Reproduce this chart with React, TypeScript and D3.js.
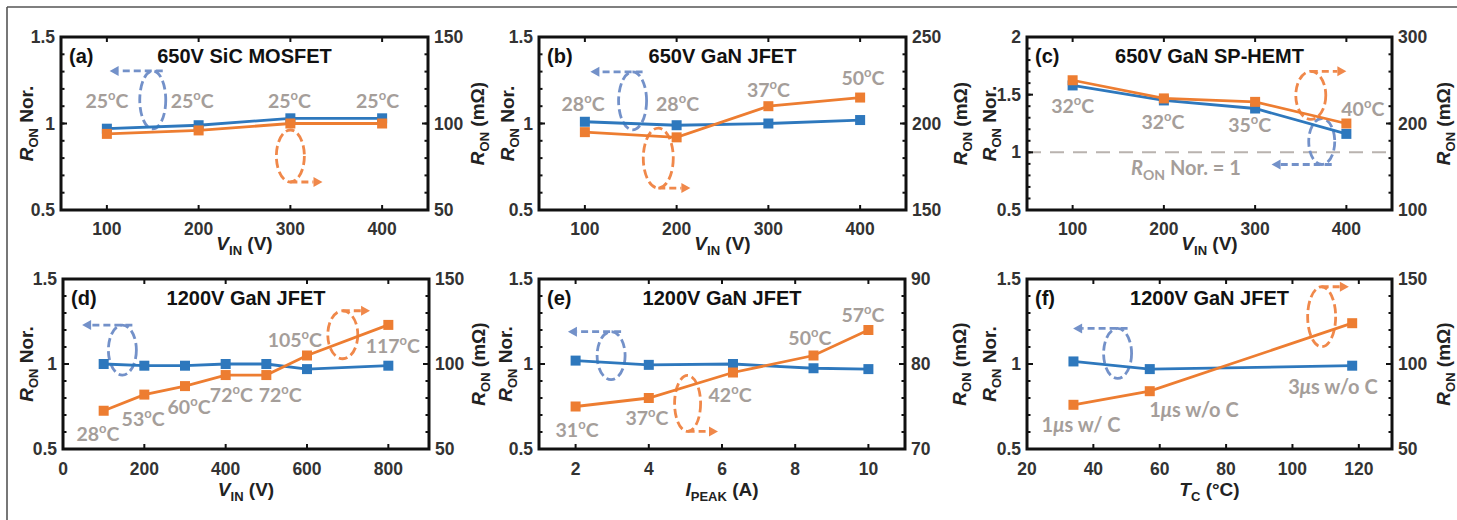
import * as d3 from "d3";

const BLUE = "#2e78bd";
const ORANGE = "#ed7d31";
const BLUE_LT = "#7391c9";
const ORANGE_LT = "#f0884a";
const GREY = "#a59e9a";
const TICK_FONT = "'Liberation Sans', Arial, sans-serif";
const LBL_FONT = "Lato, 'Open Sans', sans-serif";

// (a) 650V SiC MOSFET
const vinA = [100, 200, 300, 400];
const norA = [0.97, 0.99, 1.03, 1.03];
const ronA = [94, 96, 100, 100];
const tempA = [
  { x: 100, y: 1.13, t: "25" },
  { x: 193, y: 1.13, t: "25" },
  { x: 299, y: 1.13, t: "25" },
  { x: 395, y: 1.13, t: "25" },
];

// (b) 650V GaN JFET
const vinB = [100, 200, 300, 400];
const norB = [1.01, 0.99, 1.0, 1.02];
const ronB = [195, 192, 210, 215];
const tempB = [
  { x: 98, y: 1.115, t: "28" },
  { x: 201, y: 1.115, t: "28" },
  { x: 300, y: 1.195, t: "37" },
  { x: 403, y: 1.264, t: "50" },
];

// (c) 650V GaN SP-HEMT
const vinC = [100, 200, 300, 400];
const norC = [1.58, 1.45, 1.38, 1.16];
const ronC = [250, 229, 225, 200];
const tempC = [
  { x: 100, y: 1.4, t: "32" },
  { x: 199, y: 1.265, t: "32" },
  { x: 294, y: 1.235, t: "35" },
  { x: 418, y: 1.38, t: "40" },
];

// (d) 1200V GaN JFET vs VIN
const vinD = [100, 200, 300, 400, 500, 600, 800];
const norD = [1.0, 0.99, 0.99, 1.0, 1.0, 0.97, 0.99];
const ronD = [72.5, 82, 87, 93.5, 93.5, 105, 123];
const tempD = [
  { x: 86, y: 0.59, t: "28" },
  { x: 197, y: 0.678, t: "53" },
  { x: 310, y: 0.749, t: "60" },
  { x: 414, y: 0.82, t: "72" },
  { x: 534, y: 0.82, t: "72" },
  { x: 570, y: 1.143, t: "105" },
  { x: 811, y: 1.108, t: "117" },
];

// (e) 1200V GaN JFET vs IPEAK
const ipkE = [2, 4, 6.3, 8.5, 10];
const norE = [1.02, 0.995, 1.0, 0.975, 0.97];
const ronE = [75, 76, 79, 81, 84];
const tempE = [
  { x: 2.04, y: 0.614, t: "31" },
  { x: 3.95, y: 0.684, t: "37" },
  { x: 6.22, y: 0.82, t: "42" },
  { x: 8.4, y: 1.155, t: "50" },
  { x: 9.85, y: 1.29, t: "57" },
];

// (f) 1200V GaN JFET vs TC
const tcF = [34, 57, 118];
const norF = [1.015, 0.97, 0.99];
const ronF = [76, 84, 124];
const condF = [
  { x: 36.3, y: 0.643, n: "1", t: "s w/ C" },
  { x: 70.3, y: 0.731, n: "1", t: "s w/o C" },
  { x: 112.2, y: 0.866, n: "3", t: "s w/o C" },
];

type Ann = { cx: number; cy: number; rx: number; ry: number; side: "top" | "bottom"; tip: number };

const panels = [
  {
    id: "a", title: "650V SiC MOSFET", xs: vinA, nor: norA, ron: ronA, temps: tempA,
    xDomain: [50, 450], xTicks: [100, 200, 300, 400], xLabel: "V", xSub: "IN", xUnit: " (V)",
    yL: [0.5, 1.5], yLTicks: [0.5, 1, 1.5], yLMinor: 0.1,
    yR: [50, 150], yRTicks: [50, 100, 150], yRMinor: 10,
    left: 61, right: 428, top: 37, bottom: 210, lDx: 28, rDx: 56, xtDy: 25, xlDy: 40,
    blueAnn: { cx: 150, cy: 1.136, rx: 13, ry: 29, side: "top", tip: 103 } as Ann,
    orangeAnn: { cx: 300, cy: 0.812, rx: 14, ry: 26, side: "bottom", tip: 335 } as Ann,
  },
  {
    id: "b", title: "650V GaN JFET", xs: vinB, nor: norB, ron: ronB, temps: tempB,
    xDomain: [50, 450], xTicks: [100, 200, 300, 400], xLabel: "V", xSub: "IN", xUnit: " (V)",
    yL: [0.5, 1.5], yLTicks: [0.5, 1, 1.5], yLMinor: 0.1,
    yR: [150, 250], yRTicks: [150, 200, 250], yRMinor: 10,
    left: 539, right: 906, top: 37, bottom: 210, lDx: 25, rDx: 61, xtDy: 25, xlDy: 40,
    blueAnn: { cx: 152, cy: 1.131, rx: 14, ry: 29, side: "top", tip: 106 } as Ann,
    orangeAnn: { cx: 180, cy: 0.8, rx: 15, ry: 30, side: "bottom", tip: 215 } as Ann,
  },
  {
    id: "c", title: "650V GaN SP-HEMT", xs: vinC, nor: norC, ron: ronC, temps: tempC,
    xDomain: [50, 450], xTicks: [100, 200, 300, 400], xLabel: "V", xSub: "IN", xUnit: " (V)",
    yL: [0.5, 2], yLTicks: [0.5, 1, 1.5, 2], yLMinor: 0.1,
    yR: [100, 300], yRTicks: [100, 200, 300], yRMinor: 20,
    left: 1027, right: 1392, top: 37, bottom: 210, lDx: 31, rDx: 58, xtDy: 25, xlDy: 40,
    blueAnn: { cx: 373, cy: 1.094, rx: 13, ry: 23, side: "bottom", tip: 318 } as Ann,
    orangeAnn: { cx: 361, cy: 1.494, rx: 15, ry: 24, side: "top", tip: 400 } as Ann,
    refLine: 1,
  },
  {
    id: "d", title: "1200V GaN JFET", xs: vinD, nor: norD, ron: ronD, temps: tempD,
    xDomain: [0, 900], xTicks: [0, 200, 400, 600, 800], xLabel: "V", xSub: "IN", xUnit: " (V)",
    yL: [0.5, 1.5], yLTicks: [0.5, 1, 1.5], yLMinor: 0.1,
    yR: [50, 150], yRTicks: [50, 100, 150], yRMinor: 10,
    left: 63, right: 429, top: 279, bottom: 449, lDx: 30, rDx: 56, xtDy: 26, xlDy: 47,
    blueAnn: { cx: 146, cy: 1.082, rx: 14, ry: 25, side: "top", tip: 47 } as Ann,
    orangeAnn: { cx: 688, cy: 1.172, rx: 15, ry: 24, side: "top", tip: 755 } as Ann,
  },
  {
    id: "e", title: "1200V GaN JFET", xs: ipkE, nor: norE, ron: ronE, temps: tempE,
    xDomain: [1, 11], xTicks: [2, 4, 6, 8, 10], xLabel: "I", xSub: "PEAK", xUnit: " (A)",
    yL: [0.5, 1.5], yLTicks: [0.5, 1, 1.5], yLMinor: 0.1,
    yR: [70, 90], yRTicks: [70, 80, 90], yRMinor: 2,
    left: 539, right: 905, top: 279, bottom: 449, lDx: 27, rDx: 61, xtDy: 26, xlDy: 47,
    blueAnn: { cx: 2.97, cy: 1.049, rx: 14, ry: 24, side: "top", tip: 1.79 } as Ann,
    orangeAnn: { cx: 5.06, cy: 0.768, rx: 13, ry: 28, side: "bottom", tip: 5.89 } as Ann,
  },
  {
    id: "f", title: "1200V GaN JFET", xs: tcF, nor: norF, ron: ronF, temps: [],
    xDomain: [20, 130], xTicks: [20, 40, 60, 80, 100, 120], xLabel: "T", xSub: "C", xUnit: " (°C)",
    yL: [0.5, 1.5], yLTicks: [0.5, 1, 1.5], yLMinor: 0.1,
    yR: [50, 150], yRTicks: [50, 100, 150], yRMinor: 10,
    left: 1027, right: 1392, top: 279, bottom: 449, lDx: 31, rDx: 58, xtDy: 26, xlDy: 47,
    blueAnn: { cx: 47.3, cy: 1.062, rx: 14, ry: 25, side: "top", tip: 33.9 } as Ann,
    orangeAnn: { cx: 108.8, cy: 1.278, rx: 14, ry: 30, side: "top", tip: 117 } as Ann,
    conds: condF,
  },
];

function Annotation({ a, x, y, color, dir }: any) {
  const cx = x(a.cx);
  const cy = y(a.cy);
  const ay = a.side === "top" ? cy - a.ry : cy + a.ry;
  const x0 = dir < 0 ? cx + 10 : cx;
  const tip = x(a.tip);
  const head = 9;
  return (
    <g>
      <ellipse cx={cx} cy={cy} rx={a.rx} ry={a.ry} fill="none" stroke={color} strokeWidth={2.8} strokeDasharray="9 4" />
      <line x1={x0} x2={tip - dir * head} y1={ay} y2={ay} stroke={color} strokeWidth={2.8} strokeDasharray="7 4" />
      <polygon
        points={`${tip},${ay} ${tip - dir * head},${ay - 5} ${tip - dir * head},${ay + 5}`}
        fill={color}
      />
    </g>
  );
}

function TempLabel({ x, y, t }: any) {
  return (
    <text x={x} y={y + 7} textAnchor="middle" fontFamily={LBL_FONT} fontWeight={700} fontSize={19.5} fill={GREY}>
      {t}
      <tspan dy={-8} fontSize={13}>o</tspan>
      <tspan dy={8}>C</tspan>
    </text>
  );
}

function Panel({ p }: any) {
  const x = d3.scaleLinear().domain(p.xDomain).range([p.left, p.right]);
  const yL = d3.scaleLinear().domain(p.yL).range([p.bottom, p.top]);
  const yR = d3.scaleLinear().domain(p.yR).range([p.bottom, p.top]);
  const lineL = d3.line<number>().x((_, i) => x(p.xs[i])).y((d) => yL(d));
  const lineR = d3.line<number>().x((_, i) => x(p.xs[i])).y((d) => yR(d));
  const minorL = d3.range(p.yL[0], p.yL[1] + 1e-9, p.yLMinor);
  const minorR = d3.range(p.yR[0], p.yR[1] + 1e-9, p.yRMinor);
  const midY = (p.top + p.bottom) / 2;
  const midX = (p.left + p.right) / 2;
  const ms = 10;

  return (
    <g>
      {p.refLine !== undefined && (
        <line x1={p.left} x2={p.right} y1={yL(p.refLine)} y2={yL(p.refLine)} stroke="#b9b3af" strokeWidth={2} strokeDasharray="14 9" />
      )}
      {p.refLine !== undefined && (
        <text x={x(164)} y={yL(0.868) + 7} fontFamily={LBL_FONT} fontWeight={700} fontSize={20} fill={GREY}>
          <tspan fontStyle="italic">R</tspan>
          <tspan dy={5} fontSize={14}>ON</tspan>
          <tspan dy={-5}> Nor. = 1</tspan>
        </text>
      )}

      <Annotation a={p.blueAnn} x={x} y={yL} color={BLUE_LT} dir={-1} />
      <Annotation a={p.orangeAnn} x={x} y={yL} color={ORANGE_LT} dir={1} />

      <path d={lineL(p.nor) || ""} fill="none" stroke={BLUE} strokeWidth={2.8} />
      {p.nor.map((d: number, i: number) => (
        <rect key={`b${i}`} x={x(p.xs[i]) - ms / 2} y={yL(d) - ms / 2} width={ms} height={ms} fill={BLUE} />
      ))}
      <path d={lineR(p.ron) || ""} fill="none" stroke={ORANGE} strokeWidth={2.8} />
      {p.ron.map((d: number, i: number) => (
        <rect key={`o${i}`} x={x(p.xs[i]) - ms / 2} y={yR(d) - ms / 2} width={ms} height={ms} fill={ORANGE} />
      ))}

      {p.temps.map((d: any, i: number) => (
        <TempLabel key={i} x={x(d.x)} y={yL(d.y)} t={d.t} />
      ))}
      {p.conds &&
        p.conds.map((d: any, i: number) => (
          <text key={i} x={x(d.x)} y={yL(d.y) + 7} textAnchor="middle" fontFamily={LBL_FONT} fontWeight={700} fontSize={20} fill={GREY}>
            {d.n}
            <tspan fontStyle="italic">μ</tspan>
            {d.t}
          </text>
        ))}

      {/* box */}
      <rect x={p.left} y={p.top} width={p.right - p.left} height={p.bottom - p.top} fill="none" stroke="#111" strokeWidth={3} />

      {/* x ticks */}
      {p.xTicks.map((t: number) => (
        <g key={t}>
          <line x1={x(t)} x2={x(t)} y1={p.bottom} y2={p.bottom - 5} stroke="#111" strokeWidth={2} />
          <line x1={x(t)} x2={x(t)} y1={p.top} y2={p.top + 5} stroke="#111" strokeWidth={2} />
          <text x={x(t)} y={p.bottom + p.xtDy} textAnchor="middle" fontFamily={TICK_FONT} fontWeight={700} fontSize={17.5} fill="#333">
            {t}
          </text>
        </g>
      ))}

      {/* y minor ticks */}
      {minorL.map((t: number) => (
        <line key={`ml${t}`} x1={p.left} x2={p.left + 3.5} y1={yL(t)} y2={yL(t)} stroke="#111" strokeWidth={2} />
      ))}
      {minorR.map((t: number) => (
        <line key={`mr${t}`} x1={p.right} x2={p.right - 3.5} y1={yR(t)} y2={yR(t)} stroke="#111" strokeWidth={2} />
      ))}
      {p.yLTicks.map((t: number) => (
        <g key={`l${t}`}>
          <line x1={p.left} x2={p.left + 6} y1={yL(t)} y2={yL(t)} stroke="#111" strokeWidth={2} />
          <text x={p.left - 6} y={yL(t) + 6} textAnchor="end" fontFamily={TICK_FONT} fontWeight={700} fontSize={17.5} fill="#333">
            {t}
          </text>
        </g>
      ))}
      {p.yRTicks.map((t: number) => (
        <g key={`r${t}`}>
          <line x1={p.right} x2={p.right - 6} y1={yR(t)} y2={yR(t)} stroke="#111" strokeWidth={2} />
          <text x={p.right + 6} y={yR(t) + 6} textAnchor="start" fontFamily={TICK_FONT} fontWeight={700} fontSize={17.5} fill="#333">
            {t}
          </text>
        </g>
      ))}

      {/* titles */}
      <text x={p.left + 8} y={p.top + 26} fontFamily={TICK_FONT} fontWeight={700} fontSize={20} fill="#111">
        ({p.id})
      </text>
      <text x={midX} y={p.top + 26} textAnchor="middle" fontFamily={TICK_FONT} fontWeight={700} fontSize={20} fill="#111">
        {p.title}
      </text>

      {/* axis labels */}
      <text x={midX} y={p.bottom + p.xlDy} textAnchor="middle" fontFamily={TICK_FONT} fontWeight={700} fontSize={19} fill="#222">
        <tspan fontStyle="italic">{p.xLabel}</tspan>
        <tspan dy={5} fontSize={13}>{p.xSub}</tspan>
        <tspan dy={-5}>{p.xUnit}</tspan>
      </text>
      <text transform={`translate(${p.left - p.lDx},${midY}) rotate(-90)`} textAnchor="middle" fontFamily={TICK_FONT} fontWeight={700} fontSize={19} fill="#222">
        <tspan fontStyle="italic">R</tspan>
        <tspan dy={5} fontSize={13}>ON</tspan>
        <tspan dy={-5}> Nor.</tspan>
      </text>
      <text transform={`translate(${p.right + p.rDx},${midY}) rotate(-90)`} textAnchor="middle" fontFamily={TICK_FONT} fontWeight={700} fontSize={19} fill="#222">
        <tspan fontStyle="italic">R</tspan>
        <tspan dy={5} fontSize={13}>ON</tspan>
        <tspan dy={-5}> (mΩ)</tspan>
      </text>
    </g>
  );
}

export default function App() {
  return (
    <svg width={1457} height={520} style={{ position: "absolute", left: 0, top: 0, background: "#fff" }}>
      <rect x={0} y={0} width={1457} height={520} fill="#fff" />
      <line x1={7} x2={1457} y1={7} y2={7} stroke="#555" strokeWidth={1.6} />
      <line x1={7} x2={7} y1={7} y2={520} stroke="#555" strokeWidth={1.6} />
      {panels.map((p) => (
        <Panel key={p.id} p={p} />
      ))}
    </svg>
  );
}
